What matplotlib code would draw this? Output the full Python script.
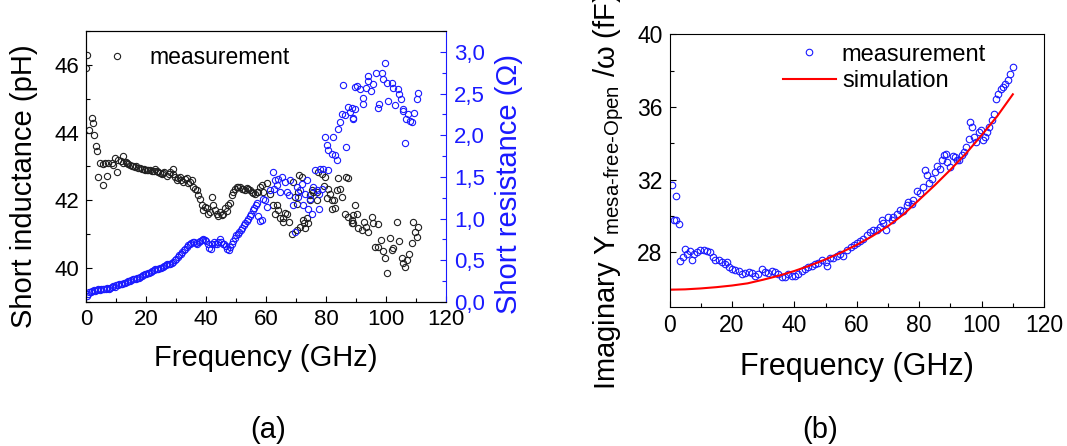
import matplotlib
matplotlib.use("Agg")
import matplotlib.pyplot as plt
from matplotlib.ticker import MultipleLocator, FixedLocator, FixedFormatter

plt.rcParams['font.family'] = ['Liberation Sans', 'DejaVu Sans']
plt.rcParams['mathtext.fontset'] = 'custom'
plt.rcParams['mathtext.rm'] = 'Liberation Sans'
plt.rcParams['mathtext.it'] = 'Liberation Sans:italic'

# ---------------- panel (a): short inductance (black) ----------------
ind_freq = [0.0, 0.4, 1.1, 1.9, 2.4, 2.7, 3.2, 3.6, 4.1, 4.7, 5.6, 5.8, 6.3, 7.1, 7.4, 8.6, 9.0, 9.7,
            10.2, 10.8, 11.5, 12.2, 12.4, 13.2, 13.6, 14.1, 14.6, 15.2, 15.7, 16.3, 16.8, 17.4, 18.0,
            18.6, 19.2, 19.7, 20.3, 20.8, 21.4, 21.9, 22.5, 23.0, 23.6, 24.1, 24.6, 25.2, 25.7, 26.0,
            26.9, 27.5, 28.0, 28.9, 29.1, 29.6, 30.2, 30.7, 31.3, 31.8, 32.4, 33.0, 33.6, 34.1, 34.7,
            35.2, 35.8, 36.3, 36.9, 37.4, 38.0, 38.6, 39.1, 39.6, 40.2, 40.8, 41.3, 41.9, 42.4, 43.0,
            43.6, 44.1, 44.7, 45.2, 45.8, 46.3, 46.9, 47.4, 48.0, 48.6, 49.1, 49.7, 50.2, 50.8, 51.3,
            51.9, 52.4, 53.0, 53.6, 54.1, 54.7, 55.2, 55.8, 56.3, 56.9, 57.4, 58.0,
            58.6, 59.1, 60.2, 61.3, 62.4, 63.0, 63.7, 64.1, 64.7, 65.6, 65.8, 66.2, 66.9, 67.8, 68.6,
            69.1, 69.7, 70.2, 70.3, 70.8, 71.1, 71.4, 71.9, 72.2, 72.8, 73.0, 73.6, 74.1, 74.7, 74.7,
            75.3, 75.8, 76.9, 77.0, 77.4, 78.6, 79.3, 79.7, 80.4, 80.8, 81.3, 81.9, 82.1, 82.7, 83.0,
            83.6, 84.1, 84.7, 85.2, 86.3, 86.7, 87.4, 87.4, 88.6, 89.1,
            88.6, 89.1, 89.7, 90.2, 90.8, 91.9, 92.7, 93.3, 94.1, 95.2, 95.8, 96.3, 97.4, 97.4, 98.2,
            99.1, 99.7, 100.2, 101.3, 101.9, 102.4, 103.8, 104.4, 105.2, 105.8, 106.3, 106.9, 107.8,
            108.6, 109.1, 109.7, 110.2, 110.8]
inductance = [45.92, 46.28, 44.07, 44.42, 44.29, 43.92, 43.60, 43.46, 42.68, 43.11, 42.45, 43.07, 43.10,
              42.71, 43.09, 43.09, 43.05, 43.24, 42.84, 43.19, 43.15, 43.30, 43.11, 43.12, 43.10, 43.07,
              43.05, 43.01, 43.00, 42.99, 43.00, 42.96, 42.95, 42.94, 42.93, 42.91, 42.90, 42.89, 42.90,
              42.87, 42.88, 42.94, 42.86, 42.84, 42.82, 42.79, 42.80, 42.85, 42.71, 42.78, 42.84, 42.94,
              42.79, 42.70, 42.60, 42.66, 42.69, 42.60, 42.55, 42.62, 42.65, 42.50, 42.55, 42.60, 42.40,
              42.35, 42.30, 42.15, 42.05, 41.86, 41.71, 41.80, 41.76, 41.61, 41.65, 42.10, 41.86, 41.71,
              41.60, 41.53, 41.66, 41.58, 41.61, 41.76, 41.70, 41.86, 41.91, 42.15, 42.25, 42.35, 42.40,
              42.40, 42.38, 42.35, 42.33, 42.30, 42.36, 42.35, 42.30, 42.25, 42.22, 42.20, 42.24, 42.25,
              42.40,
              42.45, 42.25, 42.50, 42.20, 41.86, 41.61, 41.87, 41.71, 41.47, 41.47, 41.37, 41.62, 41.61,
              41.37, 41.02, 42.55, 42.10, 41.90, 41.13, 42.25, 42.74, 41.22, 42.69, 41.42, 41.32, 41.17,
              41.47, 41.32, 42.15, 42.01, 42.31, 42.25, 42.00, 42.26, 42.84, 42.79, 42.41, 42.69, 42.06,
              42.35, 42.20, 42.00, 41.74, 42.01, 41.76, 42.30, 42.65, 42.35, 42.10, 41.61, 42.69, 42.67,
              41.52, 41.42, 41.32,
              41.32, 41.56, 41.86, 41.61, 41.17, 41.12, 41.37, 41.22, 41.07, 41.51, 41.32, 40.63, 41.30,
              40.61, 40.83, 40.51, 40.29, 39.87, 40.88, 40.53, 40.58, 41.37, 40.80, 40.29, 40.16, 40.04,
              40.24, 40.43, 40.73, 41.37, 41.07, 40.92, 41.22]

# ---------------- panel (a): short resistance (blue) ----------------
res_freq = [0.3, 0.6, 1.0, 1.5, 2.0, 2.5, 3.0, 3.5, 4.0, 4.5, 5.0, 5.5, 6.0, 6.5, 7.0, 7.5, 8.0, 8.5,
            9.0, 9.5, 10.0, 10.5, 11.0, 11.5, 12.0, 12.5, 13.0, 13.5, 14.0, 14.5, 15.0, 15.5, 16.0,
            16.5, 17.0, 17.5, 18.0, 18.5, 19.0, 19.5, 20.0, 20.5, 21.0, 21.5, 22.0, 22.5, 23.0, 23.5,
            24.0, 24.5, 25.0, 25.5, 26.0, 26.5, 27.0, 27.5, 28.0, 28.5, 29.0, 29.5, 30.0, 30.5, 31.0,
            31.5, 32.0, 32.5, 33.0, 33.5, 34.0, 34.5, 35.0, 35.5, 36.0, 36.5, 37.0, 37.5, 38.0, 38.5,
            39.0, 39.5, 40.0, 40.5, 41.0, 41.5, 42.0, 42.5, 43.0, 43.5, 44.0, 44.5, 45.0, 45.5, 46.0,
            46.5, 47.0, 47.5, 48.0, 48.5, 49.0, 49.5, 50.0, 50.5, 51.0, 51.5, 52.0, 52.5, 53.0, 53.5,
            54.0, 54.5, 55.0, 55.5, 56.0, 56.5, 57.0, 57.4, 58.0, 58.9,
            58.6, 59.7, 60.2, 61.3, 62.4, 62.5, 63.0, 63.5, 64.1, 64.5, 65.2, 66.3, 66.9, 67.5, 68.0,
            69.1, 69.7, 70.2, 70.8, 71.3, 72.0, 72.4, 73.0, 73.6, 74.0, 74.7, 75.2, 75.8, 76.3, 76.9,
            77.5, 77.8, 78.0, 78.6, 79.1, 80.8, 79.7, 80.2, 80.8, 81.9, 83.0, 83.6, 82.4, 84.1, 84.7,
            86.7, 85.2, 86.3, 87.4, 88.0, 89.1, 85.8, 89.7,
            88.6, 89.7, 89.1, 90.2, 91.3, 92.4, 92.2, 93.3, 94.1, 94.1, 94.9, 95.8, 96.7, 97.4, 97.8,
            98.6, 99.1, 99.7, 100.2, 100.8, 101.9, 102.4, 103.0, 104.1, 104.4, 104.9, 105.6, 105.8,
            106.3, 106.7, 107.4, 108.0, 108.6, 109.3, 110.2, 110.8]
resistance = [0.07, 0.10, 0.12, 0.12, 0.13, 0.14, 0.13, 0.14, 0.15, 0.14, 0.15, 0.15, 0.16, 0.16, 0.17,
              0.16, 0.17, 0.18, 0.19, 0.18, 0.20, 0.20, 0.21, 0.21, 0.22, 0.23, 0.23, 0.24, 0.25, 0.25,
              0.26, 0.27, 0.27, 0.28, 0.29, 0.29, 0.30, 0.31, 0.32, 0.33, 0.34, 0.35, 0.35, 0.36, 0.37,
              0.38, 0.39, 0.39, 0.40, 0.41, 0.41, 0.42, 0.43, 0.44, 0.45, 0.45, 0.46, 0.47, 0.48, 0.50,
              0.52, 0.54, 0.56, 0.58, 0.60, 0.62, 0.64, 0.66, 0.68, 0.69, 0.71, 0.72, 0.72, 0.71, 0.70,
              0.72, 0.73, 0.74, 0.75, 0.74, 0.73, 0.70, 0.65, 0.64, 0.70, 0.72, 0.70, 0.69, 0.72, 0.75,
              0.72, 0.70, 0.69, 0.67, 0.64, 0.62, 0.66, 0.70, 0.73, 0.77, 0.80, 0.82, 0.84, 0.86, 0.89,
              0.92, 0.95, 0.97, 1.00, 1.03, 1.06, 1.10, 1.13, 1.16, 1.19, 1.03, 0.97, 1.23,
              0.98, 1.22, 1.14, 1.34, 1.56, 1.36, 1.46, 1.40, 1.48, 1.32, 1.50, 1.44, 1.32, 1.28, 1.46,
              1.16, 0.84, 1.38, 1.26, 1.34, 1.42, 1.16, 1.30, 1.46, 1.12, 1.24, 1.06, 1.38, 1.58, 1.34,
              1.30, 1.12, 1.60, 1.36, 1.60, 1.58, 1.98, 1.88, 1.82, 1.78, 1.76, 1.70, 1.98, 2.08, 2.16,
              1.86, 2.26, 2.24, 2.34, 2.28, 2.20, 2.60, 2.58,
              2.33, 2.31, 2.21, 2.59, 2.55, 2.45, 2.37, 2.57, 2.65, 2.71, 2.53, 2.61, 2.75, 2.33, 2.37,
              2.75, 2.68, 2.87, 2.63, 2.41, 2.63, 2.57, 2.36, 2.55, 2.50, 2.43, 2.29, 2.31, 1.91, 2.19,
              2.25, 2.17, 2.16, 2.27, 2.43, 2.51]

res_ticks = [0.0, 0.5, 1.0, 1.5, 2.0, 2.5, 3.0]
res_tick_labels = ['0,0', '0,5', '1,0', '1,5', '2,0', '2,5', '3,0']

# ---------------- panel (b): imaginary admittance / omega ----------------
meas_freq = [0.7, 1.3, 2.1, 2.1, 2.9, 3.2, 4.3, 5.0, 5.6, 6.4, 7.2, 7.7, 8.8, 9.8, 10.9, 12.0, 13.0,
             13.9, 14.6, 15.7, 16.8, 17.8, 18.4, 18.9, 20.0, 21.0, 22.1, 23.2, 24.2, 25.3, 26.4, 27.4,
             28.5, 29.6, 30.6, 31.7, 32.8, 33.8, 34.9, 36.0, 37.0, 38.1, 39.2, 40.2, 41.3, 42.4, 43.4,
             44.5, 45.6, 46.7, 47.7, 48.8, 50.0, 50.4, 51.5, 52.5, 53.6, 54.7, 55.7, 56.8, 58.0, 59.0,
             60.0, 61.1, 62.1, 63.2, 64.3, 65.3, 66.4, 67.5, 68.0, 68.5, 69.4, 70.1, 71.2, 71.7, 72.8,
             73.9, 74.9, 76.0, 76.5, 77.6, 78.1, 79.2, 80.3, 81.3, 81.9, 82.4, 83.0, 84.0, 85.1, 85.6,
             86.5, 87.2, 87.8, 88.6, 89.0, 89.9, 90.7, 91.5, 92.0, 92.9, 93.6, 94.4, 95.0, 95.8, 96.3,
             96.9, 97.6, 98.2, 99.0, 99.7, 100.4, 101.1, 101.8, 102.5, 103.2, 103.9, 104.6, 105.4,
             106.1, 106.8, 107.5, 108.3, 109.1, 110.0]
meas_y = [31.72, 29.76, 31.10, 29.80, 29.58, 27.52, 27.74, 28.20, 27.93, 28.07, 27.60, 27.93, 28.02,
          28.11, 28.15, 28.07, 28.02, 27.74, 27.60, 27.56, 27.47, 27.38, 27.47, 27.19, 27.10, 27.05,
          26.97, 26.83, 26.86, 26.92, 26.86, 26.73, 26.83, 27.10, 26.92, 26.86, 26.97, 26.92, 26.83,
          26.64, 26.64, 26.79, 26.73, 26.68, 26.83, 26.97, 27.10, 27.19, 27.28, 27.34, 27.41, 27.56,
          27.47, 27.28, 27.71, 27.71, 27.83, 27.93, 27.83, 28.11, 28.29, 28.39, 28.51, 28.62, 28.75,
          28.94, 29.12, 29.21, 29.25, 29.39, 29.80, 29.61, 29.21, 29.94, 29.76, 29.94, 30.13, 30.31,
          30.28, 30.59, 30.77, 30.68, 30.86, 31.38, 31.27, 31.60, 32.51, 32.24, 31.82, 32.06, 32.42,
          32.73, 32.61, 33.06, 33.34, 33.43, 32.97, 32.70, 33.28, 33.25, 33.06, 33.10, 33.34, 33.52,
          33.80, 34.26, 35.17, 34.90, 34.35, 34.07, 34.62, 34.72, 34.17, 34.35, 34.62, 34.90, 35.27,
          35.63, 36.46, 36.73, 37.00, 37.10, 37.28, 37.47, 37.83, 38.20]

sim_freq = [0, 5, 10, 15, 20, 25, 30, 35, 40, 45, 50, 55, 60, 65, 70, 75, 80, 85, 90, 95, 100, 105, 110]
sim_y = [25.95, 25.97, 26.02, 26.09, 26.18, 26.30, 26.50, 26.72, 26.98, 27.28, 27.62, 28.00, 28.42,
         28.90, 29.45, 30.10, 30.90, 31.70, 32.55, 33.45, 34.45, 35.50, 36.70]

freq_ticks = [0, 20, 40, 60, 80, 100, 120]

BLUE = '#1a1aff'
TICK_FS = 16
LABEL_FS = 21
LEG_FS = 16.5

fig = plt.figure(figsize=(10.67, 4.46), dpi=100)

# ---- panel (a)
ax1 = fig.add_axes([0.0806, 0.3229, 0.3374, 0.6076])
ax1.plot(ind_freq, inductance, linestyle='none', marker='o', ms=4.5, mfc='none',
         mec='#202020', mew=0.8, label='measurement')
ax1.set_xlim(0, 120)
ax1.set_ylim(39, 47)
ax1.xaxis.set_major_locator(FixedLocator(freq_ticks))
ax1.xaxis.set_minor_locator(MultipleLocator(10))
ax1.yaxis.set_major_locator(MultipleLocator(2))
ax1.yaxis.set_minor_locator(MultipleLocator(1))
ax1.tick_params(which='both', direction='in', top=False, right=False, labelsize=TICK_FS, pad=5)
ax1.tick_params(which='major', length=4.5, width=0.8)
ax1.tick_params(which='minor', length=3, width=0.8)
ax1.spines['right'].set_visible(False)
for s in ax1.spines.values():
    s.set_linewidth(0.8)
ax1.legend(loc='upper left', bbox_to_anchor=(0.012, 0.946), frameon=False, fontsize=LEG_FS,
           numpoints=1, handlelength=2.3, handletextpad=0.26, borderpad=0, borderaxespad=0)

ax2 = ax1.twinx()
ax2.plot(res_freq, resistance, linestyle='none', marker='o', ms=4.5, mfc='none',
         mec=BLUE, mew=0.8)
ax2.set_ylim(0, 3.25)
ax2.yaxis.set_major_locator(FixedLocator(res_ticks))
ax2.yaxis.set_major_formatter(FixedFormatter(res_tick_labels))
ax2.yaxis.set_minor_locator(MultipleLocator(0.25))
ax2.tick_params(which='both', direction='in', colors=BLUE, labelsize=TICK_FS, pad=6)
ax2.tick_params(which='major', length=4.5, width=0.8)
ax2.tick_params(which='minor', length=3, width=0.8)
ax2.spines['right'].set_color(BLUE)
for s in ax2.spines.values():
    s.set_linewidth(0.8)

fig.text(24.5 / 1067, 1 - 186 / 446, 'Short inductance (pH)', rotation=90, ha='center', va='center',
         fontsize=LABEL_FS)
fig.text(509 / 1067, 1 - 184 / 446, 'Short resistance (\u03a9)', rotation=90, ha='center', va='center',
         fontsize=LABEL_FS, color=BLUE)
fig.text(266 / 1067, 1 - 358 / 446, 'Frequency (GHz)', ha='center', va='center', fontsize=LABEL_FS)
fig.text(268 / 1067, 1 - 430 / 446, '(a)', ha='center', va='center', fontsize=LABEL_FS)

# ---- panel (b)
ax3 = fig.add_axes([0.6275, 0.3117, 0.351, 0.6114])
ax3.plot(meas_freq, meas_y, linestyle='none', marker='o', ms=4.7, mfc='none',
         mec=BLUE, mew=0.8, label='measurement')
ax3.plot(sim_freq, sim_y, color='#ff0000', lw=1.5, label='simulation')
ax3.set_xlim(0, 120)
ax3.set_ylim(25, 40)
ax3.xaxis.set_major_locator(FixedLocator(freq_ticks))
ax3.xaxis.set_minor_locator(MultipleLocator(10))
ax3.yaxis.set_major_locator(MultipleLocator(4))
ax3.yaxis.set_minor_locator(MultipleLocator(2))
ax3.tick_params(which='both', direction='in', top=False, right=False, labelsize=16.5, pad=5)
ax3.tick_params(which='major', length=4.5, width=0.8)
ax3.tick_params(which='minor', length=3, width=0.8)
for s in ax3.spines.values():
    s.set_linewidth(0.8)
ax3.legend(loc='upper left', bbox_to_anchor=(0.302, 0.966), frameon=False, fontsize=17,
           numpoints=1, handlelength=2.25, handletextpad=0.26, borderpad=0, borderaxespad=0,
           labelspacing=0.2)

# the reference crops this label at the top edge of the figure
fig.text(609 / 1067, 56 / 446,
         r'Imaginary Y$_{\text{mesa-free-Open}}$ /ω (fF)',
         rotation=90, ha='center', va='bottom', fontsize=21)
fig.text(857 / 1067, 1 - 367 / 446, 'Frequency (GHz)', ha='center', va='center', fontsize=22)
fig.text(820 / 1067, 1 - 430 / 446, '(b)', ha='center', va='center', fontsize=LABEL_FS)

fig.savefig('out.png', dpi=100)
